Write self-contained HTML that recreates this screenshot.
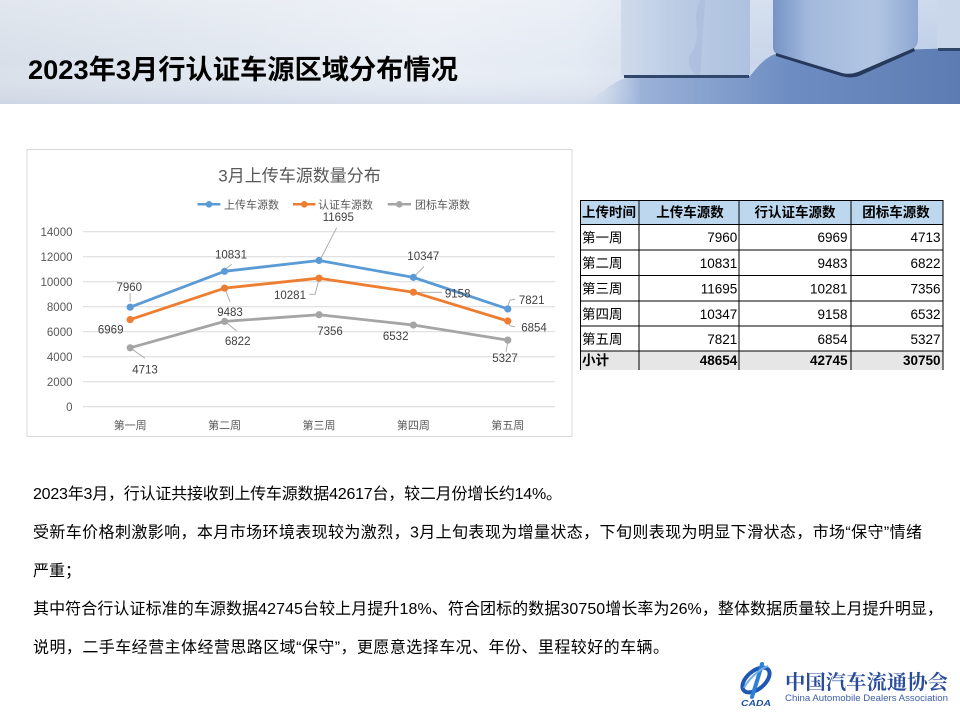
<!DOCTYPE html>
<html>
<head>
<meta charset="utf-8">
<style>
  html,body{margin:0;padding:0;background:#fff;}
  body{width:960px;height:720px;overflow:hidden;}
  svg{display:block;}
  .cjk{font-family:"Liberation Sans","Noto Sans CJK SC",sans-serif;}
</style>
</head>
<body>
<svg width="960" height="720" viewBox="0 0 960 720" xmlns="http://www.w3.org/2000/svg">
  <defs>
    <linearGradient id="hdr" x1="0" y1="0" x2="1" y2="0">
      <stop offset="0" stop-color="#d8dfe9"/>
      <stop offset="0.45" stop-color="#e9eef5"/>
      <stop offset="0.6" stop-color="#e4eaf3"/>
      <stop offset="0.72" stop-color="#cdd9eb"/>
      <stop offset="1" stop-color="#bccde6"/>
    </linearGradient>
    <linearGradient id="hdrV" x1="0" y1="0" x2="0" y2="1">
      <stop offset="0" stop-color="#ffffff" stop-opacity="0.25"/>
      <stop offset="0.6" stop-color="#ffffff" stop-opacity="0"/>
      <stop offset="1" stop-color="#b8c6dc" stop-opacity="0.35"/>
    </linearGradient>
    <linearGradient id="floorH" x1="0" y1="0" x2="1" y2="0">
      <stop offset="0" stop-color="#c9d5e8" stop-opacity="0"/>
      <stop offset="0.15" stop-color="#9bb2d8"/>
      <stop offset="0.55" stop-color="#6d8dc2"/>
      <stop offset="1" stop-color="#5c7cb3"/>
    </linearGradient>
    <linearGradient id="cube1" x1="0" y1="0" x2="1" y2="0">
      <stop offset="0" stop-color="#cfdbec"/>
      <stop offset="0.5" stop-color="#b9cae3"/>
      <stop offset="1" stop-color="#aec2df"/>
    </linearGradient>
    <linearGradient id="cube2" x1="0" y1="0" x2="1" y2="0">
      <stop offset="0" stop-color="#7593c5"/>
      <stop offset="0.25" stop-color="#a3badd"/>
      <stop offset="0.7" stop-color="#b2c6e3"/>
      <stop offset="1" stop-color="#8ea8d3"/>
    </linearGradient>
  </defs>

  <!-- Header band -->
  <rect x="0" y="0" width="960" height="104" fill="url(#hdr)"/>
  <rect x="0" y="0" width="960" height="104" fill="url(#hdrV)"/>
  <path d="M585 104 C605 90 615 80 630 77 L750 76 C758 66 765 58 775 54 L960 48 L960 104 Z" fill="url(#floorH)"/>
  <!-- cube 1 -->
  <rect x="621" y="-4" width="129" height="80" rx="3" fill="url(#cube1)"/>
  <path d="M700 0 C690 20 705 35 690 55 C685 65 695 75 700 78 L705 0 Z" fill="#9fb5d7" opacity="0.4"/>
  <rect x="624" y="75" width="125" height="3" fill="#30466b"/>
  <!-- cube 2 -->
  <path d="M773 -2 L918 -2 L918 40 Q918 46 912 50 L858 73 Q850 76 842 74 L780 56 Q773 53 773 47 Z" fill="url(#cube2)"/>
  <path d="M776 53 L842 73 Q850 75 858 72 L914 48 L915 51 L859 76 Q850 79 841 76 L776 56 Z" fill="#26395b"/>
  <!-- cube 3 -->
  <rect x="937" y="-4" width="30" height="54" rx="3" fill="#cad7ea"/>
  <rect x="938" y="48" width="22" height="3" fill="#30466b"/>

  <!-- Title -->
  <text x="28" y="79" class="cjk" font-size="27" font-weight="bold" fill="#000" textLength="430" lengthAdjust="spacingAndGlyphs">2023年3月行认证车源区域分布情况</text>

  <!-- Chart box -->
  <rect x="27" y="149.5" width="545" height="287" fill="#fff" stroke="#d9d9d9" stroke-width="1"/>
  <text x="299.5" y="181.5" text-anchor="middle" class="cjk" font-size="17" fill="#595959">3月上传车源数量分布</text>

  <!-- Legend -->
  <g class="cjk" font-size="11" fill="#595959">
    <line x1="197.5" y1="204.3" x2="220.4" y2="204.3" stroke="#5b9bd5" stroke-width="2.5"/>
    <circle cx="209" cy="204.3" r="3.3" fill="#5b9bd5"/>
    <text x="224" y="208.3">上传车源数</text>
    <line x1="293" y1="204.3" x2="315.5" y2="204.3" stroke="#ed7d31" stroke-width="2.5"/>
    <circle cx="304.3" cy="204.3" r="3.3" fill="#ed7d31"/>
    <text x="318" y="208.3">认证车源数</text>
    <line x1="387.7" y1="204.3" x2="411" y2="204.3" stroke="#a5a5a5" stroke-width="2.5"/>
    <circle cx="399.3" cy="204.3" r="3.3" fill="#a5a5a5"/>
    <text x="415" y="208.3">团标车源数</text>
  </g>

  <!-- Gridlines -->
  <g stroke="#d9d9d9" stroke-width="1">
    <line x1="83" y1="231.7" x2="555" y2="231.7"/>
    <line x1="83" y1="256.7" x2="555" y2="256.7"/>
    <line x1="83" y1="281.7" x2="555" y2="281.7"/>
    <line x1="83" y1="306.7" x2="555" y2="306.7"/>
    <line x1="83" y1="331.7" x2="555" y2="331.7"/>
    <line x1="83" y1="356.7" x2="555" y2="356.7"/>
    <line x1="83" y1="381.7" x2="555" y2="381.7"/>
    <line x1="83" y1="406.7" x2="555" y2="406.7"/>
  </g>

  <!-- Y labels -->
  <g font-family="Liberation Sans, sans-serif" font-size="11.5" fill="#595959" text-anchor="end">
    <text x="72.5" y="235.8">14000</text>
    <text x="72.5" y="260.8">12000</text>
    <text x="72.5" y="285.8">10000</text>
    <text x="72.5" y="310.8">8000</text>
    <text x="72.5" y="335.8">6000</text>
    <text x="72.5" y="360.8">4000</text>
    <text x="72.5" y="385.8">2000</text>
    <text x="72.5" y="410.8">0</text>
  </g>

  <!-- X labels -->
  <g class="cjk" font-size="11" fill="#595959" text-anchor="middle">
    <text x="130.2" y="429">第一周</text>
    <text x="224.6" y="429">第二周</text>
    <text x="319" y="429">第三周</text>
    <text x="413.4" y="429">第四周</text>
    <text x="507.8" y="429">第五周</text>
  </g>

  <!-- Leader lines -->
  <g stroke="#a6a6a6" stroke-width="0.9" fill="none">
    <line x1="130" y1="293" x2="130.2" y2="302"/>
    <line x1="226.5" y1="268.3" x2="231.7" y2="264.3"/>
    <line x1="320.5" y1="259" x2="336.7" y2="227.7"/>
    <line x1="415" y1="275.5" x2="424" y2="266.7"/>
    <polyline points="507.8,306 510,300 515,299.3"/>
    <line x1="225.5" y1="290" x2="230" y2="301.7"/>
    <polyline points="309.3,294.3 315,294.3 318.5,281"/>
    <line x1="416" y1="292.3" x2="442" y2="292.3"/>
    <polyline points="508.5,323.5 510,325.7 515,326.7"/>
    <line x1="132.5" y1="349.5" x2="145" y2="358.3"/>
    <line x1="226.5" y1="322.7" x2="236.7" y2="331"/>
    <line x1="507.5" y1="343.5" x2="506" y2="351.7"/>
  </g>

  <!-- Series -->
  <g fill="none" stroke-width="2.8" stroke-linejoin="round" stroke-linecap="round">
    <polyline stroke="#a5a5a5" points="130.2,347.8 224.6,321.4 319,314.75 413.4,325.05 507.8,340.1"/>
    <polyline stroke="#ed7d31" points="130.2,319.6 224.6,288.16 319,278.2 413.4,292.2 507.8,321.0"/>
    <polyline stroke="#5b9bd5" points="130.2,307.2 224.6,271.3 319,260.5 413.4,277.36 507.8,308.94"/>
  </g>
  <g fill="#a5a5a5">
    <circle cx="130.2" cy="347.8" r="3.6"/><circle cx="224.6" cy="321.4" r="3.6"/><circle cx="319" cy="314.75" r="3.6"/><circle cx="413.4" cy="325.05" r="3.6"/><circle cx="507.8" cy="340.1" r="3.6"/>
  </g>
  <g fill="#ed7d31">
    <circle cx="130.2" cy="319.6" r="3.6"/><circle cx="224.6" cy="288.16" r="3.6"/><circle cx="319" cy="278.2" r="3.6"/><circle cx="413.4" cy="292.2" r="3.6"/><circle cx="507.8" cy="321.0" r="3.6"/>
  </g>
  <g fill="#5b9bd5">
    <circle cx="130.2" cy="307.2" r="3.6"/><circle cx="224.6" cy="271.3" r="3.6"/><circle cx="319" cy="260.5" r="3.6"/><circle cx="413.4" cy="277.36" r="3.6"/><circle cx="507.8" cy="308.94" r="3.6"/>
  </g>

  <!-- Data labels -->
  <g font-family="Liberation Sans, sans-serif" font-size="11.5" fill="#404040" text-anchor="middle">
    <text x="129.3" y="290.8">7960</text>
    <text x="231" y="258.4">10831</text>
    <text x="338.3" y="220.8">11695</text>
    <text x="423.3" y="259.8">10347</text>
    <text x="531.7" y="304.1">7821</text>
    <text x="110.7" y="333.4">6969</text>
    <text x="230" y="315.8">9483</text>
    <text x="290" y="299.1">10281</text>
    <text x="457.7" y="297.4">9158</text>
    <text x="534" y="331.4">6854</text>
    <text x="145" y="373.4">4713</text>
    <text x="237.7" y="344.8">6822</text>
    <text x="330" y="335.1">7356</text>
    <text x="395.7" y="340.1">6532</text>
    <text x="505" y="361.8">5327</text>
  </g>

  <!-- Table -->
  <rect x="580" y="200" width="363" height="24.5" fill="#bdd7ee"/>
  <rect x="580" y="351" width="363" height="19" fill="#e7e6e6"/>
  <g stroke="#000" stroke-width="1">
    <line x1="580" y1="200.5" x2="943" y2="200.5"/>
    <line x1="580" y1="224.5" x2="943" y2="224.5"/>
    <line x1="580" y1="250" x2="943" y2="250"/>
    <line x1="580" y1="275.5" x2="943" y2="275.5"/>
    <line x1="580" y1="301" x2="943" y2="301"/>
    <line x1="580" y1="326" x2="943" y2="326"/>
    <line x1="580" y1="351" x2="943" y2="351"/>
    <line x1="580.5" y1="200" x2="580.5" y2="370"/>
    <line x1="639" y1="200" x2="639" y2="370"/>
    <line x1="739" y1="200" x2="739" y2="370"/>
    <line x1="851" y1="200" x2="851" y2="370"/>
    <line x1="943" y1="200" x2="943" y2="370"/>
  </g>
  <g class="cjk" font-size="13.5" font-weight="bold" fill="#000">
    <text x="582" y="217">上传时间</text>
    <text x="690" y="217" text-anchor="middle">上传车源数</text>
    <text x="795" y="217" text-anchor="middle">行认证车源数</text>
    <text x="896" y="217" text-anchor="middle">团标车源数</text>
  </g>
  <g class="cjk" font-size="13.5" fill="#000">
    <text x="582" y="242.3">第一周</text>
    <text x="582" y="268">第二周</text>
    <text x="582" y="293.5">第三周</text>
    <text x="582" y="319">第四周</text>
    <text x="582" y="344">第五周</text>
  </g>
  <g font-family="Liberation Sans, sans-serif" font-size="13.5" fill="#000" text-anchor="end">
    <text x="737.3" y="242.2">7960</text><text x="847.5" y="242.2">6969</text><text x="940.5" y="242.2">4713</text>
    <text x="737.3" y="267.9">10831</text><text x="847.5" y="267.9">9483</text><text x="940.5" y="267.9">6822</text>
    <text x="737.3" y="293.4">11695</text><text x="847.5" y="293.4">10281</text><text x="940.5" y="293.4">7356</text>
    <text x="737.3" y="318.9">10347</text><text x="847.5" y="318.9">9158</text><text x="940.5" y="318.9">6532</text>
    <text x="737.3" y="343.9">7821</text><text x="847.5" y="343.9">6854</text><text x="940.5" y="343.9">5327</text>
  </g>
  <text x="582" y="365" class="cjk" font-size="13.5" font-weight="bold" fill="#000">小计</text>
  <g font-family="Liberation Sans, sans-serif" font-size="13.5" font-weight="bold" fill="#000" text-anchor="end">
    <text x="737.3" y="365">48654</text><text x="847.5" y="365">42745</text><text x="940.5" y="365">30750</text>
  </g>

  <!-- Paragraph -->
  <g class="cjk" font-size="16" fill="#000">
    <text x="33" y="499" textLength="529" lengthAdjust="spacing">2023年3月，行认证共接收到上传车源数据42617台，较二月份增长约14%。</text>
    <text x="33" y="537.5" textLength="889" lengthAdjust="spacing">受新车价格刺激影响，本月市场环境表现较为激烈，3月上旬表现为增量状态，下旬则表现为明显下滑状态，市场“保守”情绪</text>
    <text x="33" y="576">严重；</text>
    <text x="33" y="614" textLength="910" lengthAdjust="spacing">其中符合行认证标准的车源数据42745台较上月提升18%、符合团标的数据30750增长率为26%，整体数据质量较上月提升明显，</text>
    <text x="33" y="652.5" textLength="636" lengthAdjust="spacing">说明，二手车经营主体经营思路区域“保守”，更愿意选择车况、年份、里程较好的车辆。</text>
  </g>

  <!-- Logo -->
  <g>
    <ellipse cx="756" cy="680" rx="16" ry="9" transform="rotate(-40 756 680)" fill="none" stroke="#1f57b3" stroke-width="4"/>
    <path d="M762 664 C760 672 756 684 752 697" stroke="#2f7fd6" stroke-width="4" fill="none" stroke-linecap="round"/>
    <path d="M744 688 C748 680 758 670 768 666" stroke="#6fb0ea" stroke-width="2" fill="none"/>
    <text x="741" y="706" font-family="Liberation Sans, sans-serif" font-size="8.5" font-weight="bold" font-style="italic" fill="#1f4f9f" textLength="30" lengthAdjust="spacingAndGlyphs">CADA</text>
    <text x="785" y="689" font-family="Liberation Serif, Noto Serif CJK SC, serif" font-size="20" font-weight="bold" fill="#2a4d9b" textLength="163" lengthAdjust="spacingAndGlyphs">中国汽车流通协会</text>
    <text x="785" y="701" font-family="Liberation Sans, sans-serif" font-size="9.5" fill="#3c5ea5" textLength="163" lengthAdjust="spacingAndGlyphs">China Automobile Dealers Association</text>
  </g>
</svg>
</body>
</html>
